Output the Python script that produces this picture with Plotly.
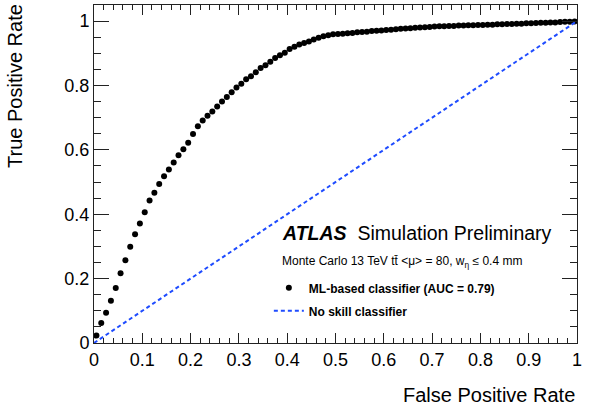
import plotly.graph_objects as go

# ROC curve points (False Positive Rate, True Positive Rate)
fpr = [0.005, 0.015, 0.025, 0.035, 0.045, 0.055, 0.065, 0.075, 0.085, 0.095,
       0.105, 0.115, 0.125, 0.135, 0.145, 0.155, 0.165, 0.175, 0.185, 0.195,
       0.205, 0.215, 0.225, 0.235, 0.245, 0.255, 0.265, 0.275, 0.285, 0.295,
       0.305, 0.315, 0.325, 0.335, 0.345, 0.355, 0.365, 0.375, 0.385, 0.395,
       0.405, 0.415, 0.425, 0.435, 0.445, 0.455, 0.465, 0.475, 0.485, 0.495,
       0.505, 0.515, 0.525, 0.535, 0.545, 0.555, 0.565, 0.575, 0.585, 0.595,
       0.605, 0.615, 0.625, 0.635, 0.645, 0.655, 0.665, 0.675, 0.685, 0.695,
       0.705, 0.715, 0.725, 0.735, 0.745, 0.755, 0.765, 0.775, 0.785, 0.795,
       0.805, 0.815, 0.825, 0.835, 0.845, 0.855, 0.865, 0.875, 0.885, 0.895,
       0.905, 0.915, 0.925, 0.935, 0.945, 0.955, 0.965, 0.975, 0.985, 0.995]
tpr = [0.023, 0.062, 0.094, 0.131, 0.171, 0.217, 0.257, 0.299, 0.338, 0.371,
       0.406, 0.443, 0.467, 0.494, 0.518, 0.539, 0.561, 0.583, 0.602, 0.622,
       0.649, 0.673, 0.691, 0.706, 0.719, 0.735, 0.750, 0.764, 0.779, 0.794,
       0.805, 0.819, 0.829, 0.841, 0.854, 0.863, 0.874, 0.885, 0.894, 0.902,
       0.913, 0.920, 0.927, 0.932, 0.937, 0.943, 0.948, 0.953, 0.956, 0.959,
       0.960, 0.961, 0.962, 0.963, 0.965, 0.966, 0.967, 0.969, 0.970, 0.971,
       0.972, 0.973, 0.975, 0.976, 0.977, 0.978, 0.979, 0.980, 0.981, 0.982,
       0.983, 0.984, 0.984, 0.985, 0.985, 0.986, 0.986, 0.987, 0.987, 0.988,
       0.988, 0.989, 0.989, 0.990, 0.990, 0.991, 0.991, 0.992, 0.992, 0.993,
       0.993, 0.994, 0.995, 0.995, 0.996, 0.996, 0.997, 0.998, 0.998, 0.999]

# No-skill diagonal
noskill_x = [0, 1]
noskill_y = [0, 1]

x_ticks = [0, 0.1, 0.2, 0.3, 0.4, 0.5, 0.6, 0.7, 0.8, 0.9, 1]
x_ticktext = ["0", "0.1", "0.2", "0.3", "0.4", "0.5", "0.6", "0.7", "0.8", "0.9", "1"]
y_ticks = [0, 0.2, 0.4, 0.6, 0.8, 1]
y_ticktext = ["0", "0.2", "0.4", "0.6", "0.8", "1"]

FONT = "Liberation Sans, Arial, Helvetica, sans-serif"
AX = "#222222"

fig = go.Figure()
fig.add_trace(go.Scatter(
    x=fpr, y=tpr, mode="markers",
    marker=dict(color="black", size=6, line=dict(width=0)),
    name="<b>ML-based classifier (AUC = 0.79)</b>", legendgroup="a"))
fig.add_trace(go.Scatter(
    x=noskill_x, y=noskill_y, mode="lines",
    line=dict(color="#1f4cff", width=2, dash="4px,3px"),
    name="<b>No skill classifier</b>", legendgroup="b"))

fig.update_layout(
    width=590, height=405,
    margin=dict(l=94, r=13, t=5, b=62),
    paper_bgcolor="white", plot_bgcolor="white",
    font=dict(family=FONT, color="black"),
    showlegend=True,
    legend=dict(x=0.362, y=0.206, xanchor="left", yanchor="top",
                bgcolor="rgba(0,0,0,0)", font=dict(size=12, family=FONT),
                tracegroupgap=4, traceorder="grouped"),
    xaxis=dict(range=[0, 1], tickvals=x_ticks, ticktext=x_ticktext,
               ticks="inside", ticklen=10, tickcolor=AX, tickwidth=1,
               showline=True, linecolor=AX, linewidth=1, mirror="ticks",
               showgrid=False, zeroline=False,
               tickfont=dict(size=18, family=FONT, color="black"),
               minor=dict(ticks="inside", ticklen=5, dtick=0.02, tickcolor=AX, showgrid=False)),
    yaxis=dict(range=[0, 1.05], tickvals=y_ticks, ticktext=y_ticktext,
               ticks="inside", ticklen=15, tickcolor=AX, tickwidth=1,
               showline=True, linecolor=AX, linewidth=1, mirror="ticks",
               showgrid=False, zeroline=False,
               tickfont=dict(size=18, family=FONT, color="black"),
               minor=dict(ticks="inside", ticklen=7, dtick=0.05, tickcolor=AX, showgrid=False)),
)

fig.add_annotation(text="True Positive Rate", textangle=-90,
                   xref="paper", yref="paper", x=-0.1636, y=1.009,
                   xanchor="center", yanchor="top", showarrow=False,
                   font=dict(size=20, family=FONT, color="black"))
fig.add_annotation(text="False Positive Rate",
                   xref="paper", yref="paper", x=1.0, y=-0.154,
                   xanchor="right", yanchor="middle", showarrow=False,
                   font=dict(size=20, family=FONT, color="black"))
fig.add_annotation(text="<b><i>ATLAS</i></b>&nbsp;&nbsp;Simulation Preliminary",
                   xref="paper", yref="paper", x=0.385, y=0.3254,
                   xanchor="left", yanchor="middle", showarrow=False,
                   font=dict(size=19.5, family=FONT, color="black"))
fig.add_annotation(text="Monte Carlo 13 TeV tt\u0304 &lt;\u03bc&gt; = 80, w<sub>\u03b7</sub> \u2264 0.4 mm",
                   xref="paper", yref="paper", x=0.385, y=0.2396,
                   xanchor="left", yanchor="middle", showarrow=False,
                   font=dict(size=12, family=FONT, color="black"))

fig.write_html("out.html")
